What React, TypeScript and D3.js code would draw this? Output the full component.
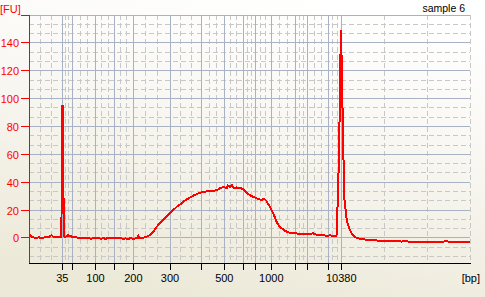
import React from "react";
import * as d3 from "d3";

// Ladder (bp) and their migration times (s)
const ladderBp = [35, 50, 100, 150, 200, 300, 400, 500, 600, 700, 1000, 2000, 3000, 7000, 10380];
const ladderTime = [26.8, 28.84, 33.57, 37.41, 41.29, 48.78, 55.24, 59.86, 63.73, 66.18, 69.45, 74.39, 76.8, 81.16, 83.73];
const labeledBp = [35, 100, 200, 300, 500, 1000, 10380];

const yMajor = [0, 20, 40, 60, 80, 100, 120, 140, 160];
const yLabeled = [0, 20, 40, 60, 80, 100, 120, 140];

const timeDomain = [20, 110];
const fuDomain = [-18, 160];

const sampleName = "sample 6";

// Electropherogram trace: [time (s), fluorescence (FU)]
const trace: [number, number][] = [
  [20.0, 0.9], [20.3, 1.6], [20.6, 0.5], [21.0, 0.3], [21.5, 0.1], [22.0, 0.4], [22.5, 0.0],
  [23.0, 0.3], [23.5, 0.5], [24.0, 0.6], [24.3, 1.5], [24.65, 1.9], [25.0, 0.6], [25.5, 0.3],
  [26.0, 0.4], [26.4, 0.5],
  [26.62, 0.6], [26.72, 95], [26.84, 95], [26.9, 28], [27.05, 28], [27.12, 1.5],
  [27.3, 0.6], [27.6, 1.2], [28.0, 1.9], [28.3, 1.4], [28.7, 1.0], [29.0, 0.6], [29.4, 1.0],
  [29.8, 0.2], [30.2, 0.0], [30.7, -0.3], [31.2, -0.2], [31.7, -0.4], [32.2, -0.3], [32.7, -0.5],
  [33.2, -0.3], [33.7, -0.4], [34.2, -0.2], [34.7, -0.5], [35.2, -0.3], [35.7, -0.6], [36.2, 0.2],
  [36.7, -0.4], [37.2, -0.2], [37.7, 0.3], [38.2, -0.4], [38.7, -0.3], [39.2, -0.5], [39.7, -0.4],
  [40.2, -0.6], [40.7, -0.3], [41.2, -0.5], [41.7, -0.4], [42.1, -0.2], [42.3, 1.5], [42.5, -0.2],
  [42.9, -0.3], [43.27, 0.0],
  [44.0, 0.8], [44.69, 2.0], [45.39, 4.5], [46.06, 8.0], [46.73, 10.5], [47.41, 12.8], [48.1, 15.5],
  [48.78, 17.6], [49.45, 20.0], [50.14, 22.3], [50.82, 24.0], [51.49, 25.9], [52.18, 27.6],
  [52.86, 29.0], [53.53, 30.3], [54.22, 31.4], [54.9, 32.4], [55.57, 33.0], [56.27, 33.4],
  [56.94, 33.6], [57.61, 33.8], [58.31, 34.3], [58.98, 35.6], [59.65, 36.7], [60.35, 35.5],
  [60.61, 37.5], [61.02, 36.7], [61.43, 37.8], [61.84, 35.8], [62.39, 36.2], [63.06, 35.8],
  [63.73, 35.0], [64.08, 33.5], [64.49, 32.0], [65.1, 30.7], [65.78, 29.5], [66.49, 28.3],
  [67.14, 27.6], [67.55, 27.2], [67.96, 28.3], [68.51, 26.4], [68.78, 24.5], [69.18, 22.3],
  [69.49, 20.0], [69.86, 17.6], [70.2, 14.5], [70.55, 11.5], [70.88, 9.5], [71.22, 8.0],
  [71.9, 6.0], [72.59, 4.4], [73.27, 3.6], [73.94, 3.4], [74.63, 3.2], [75.31, 2.9], [75.98, 3.1],
  [76.67, 2.7], [77.35, 2.7], [77.96, 3.3], [78.71, 2.2], [79.39, 1.8], [80.0, 2.0], [80.76, 1.5],
  [81.43, 1.9], [82.1, 1.2], [82.65, 1.6],
  [82.85, 2.5], [82.95, 21], [83.3, 62], [83.5, 122], [83.7, 149], [83.85, 114], [84.1, 75],
  [84.3, 30], [84.84, 12.8], [85.37, 6.8], [85.87, 3.2], [86.4, 1.0],
  [86.9, 0.0], [87.4, -0.4], [87.9, -0.9], [88.4, -1.0], [88.9, -1.3], [89.4, -1.5], [90.0, -1.7],
  [90.6, -1.6], [91.2, -1.9], [91.8, -2.1], [92.5, -2.3], [93.3, -2.2], [94.0, -2.5], [95.0, -2.4],
  [96.0, -2.6], [97.0, -2.5], [98.0, -2.7], [99.0, -2.6], [100.0, -2.8], [101.0, -2.7],
  [102.0, -2.9], [103.0, -2.8], [104.0, -3.0], [105.2, -2.3], [106.0, -3.0], [107.0, -3.1],
  [108.0, -2.9], [109.0, -3.2], [110.0, -3.1],
];

const W = 485;
const H = 297;
const L = 29;
const R = 470;
const T = 15;
const B = 263;

const FONT = "'Liberation Sans', Arial, sans-serif";

export default function App() {
  const x = d3.scaleLinear().domain(timeDomain).range([L, R]);
  const y = d3.scaleLinear().domain(fuDomain).range([B, T]);
  const px = (v: number) => Math.floor(x(v)) + 0.5;
  const py = (v: number) => Math.floor(y(v)) + 0.5;

  // vertical grid: solid at ladder times, dashed at thirds between boundaries
  const bounds = [timeDomain[0], ...ladderTime, timeDomain[1]];
  const vDashed: number[] = [];
  for (let i = 0; i < bounds.length - 1; i++) {
    const a = bounds[i], b = bounds[i + 1];
    vDashed.push(a + (b - a) / 3, a + (2 * (b - a)) / 3);
  }
  vDashed.push(timeDomain[1]);

  const hDashed: number[] = [];
  const majorAll = [-20, ...yMajor];
  for (let i = 0; i < majorAll.length - 1; i++) {
    const a = majorAll[i], b = majorAll[i + 1];
    [a + (b - a) / 3, a + (2 * (b - a)) / 3].forEach((v) => {
      if (v > fuDomain[0]) hDashed.push(v);
    });
  }

  const line = d3
    .line<[number, number]>()
    .x((d) => x(d[0]))
    .y((d) => y(d[1]))
    .curve(d3.curveLinear);

  const bpTime = (bp: number) => ladderTime[ladderBp.indexOf(bp)];

  return (
    <svg
      width={W}
      height={H}
      style={{ position: "fixed", left: 0, top: 0, display: "block" }}
      fontFamily={FONT}
    >
      <defs>
        <linearGradient id="bg" x1="0.65" y1="0" x2="0.35" y2="1">
          <stop offset="0" stopColor="#FFFFFF" />
          <stop offset="0.35" stopColor="#F9F8F4" />
          <stop offset="1" stopColor="#ECE9D8" />
        </linearGradient>
      </defs>
      <rect x={0} y={0} width={W} height={H} fill="url(#bg)" />

      {/* dashed grid */}
      <g stroke="#C8C8C8" strokeWidth={1} strokeDasharray="5 3" shapeRendering="crispEdges">
        {hDashed.map((v, i) => (
          <line key={"hd" + i} x1={L} x2={R} y1={py(v)} y2={py(v)} />
        ))}
        {vDashed.map((v, i) => (
          <line key={"vd" + i} x1={px(v)} x2={px(v)} y1={T} y2={B} />
        ))}
      </g>

      {/* solid grid */}
      <g stroke="#A9B2C4" strokeWidth={1} shapeRendering="crispEdges">
        {yMajor.map((v) => (
          <line key={"hs" + v} x1={L} x2={R} y1={py(v)} y2={py(v)} />
        ))}
        {ladderTime.map((t, i) => (
          <line key={"vs" + i} x1={px(t)} x2={px(t)} y1={T} y2={B} />
        ))}
      </g>

      {/* trace */}
      <path
        d={line(trace) || ""}
        fill="none"
        stroke="#FF0000"
        strokeWidth={2}
        strokeLinejoin="miter"
        shapeRendering="crispEdges"
      />

      {/* y axis */}
      <g shapeRendering="crispEdges">
        <line x1={L + 0.5} x2={L + 0.5} y1={T} y2={B + 1} stroke="#FF0000" />
        {yMajor.map((v) => (
          <line key={"yt" + v} x1={21} x2={L} y1={py(v)} y2={py(v)} stroke="#FF0000" />
        ))}
      </g>
      {yLabeled.map((v) => (
        <text
          key={"yl" + v}
          x={19}
          y={py(v) + 4}
          textAnchor="end"
          fontSize={11}
          fill="#FF0000"
        >
          {v}
        </text>
      ))}
      <text x={0} y={12.5} fontSize={11} fill="#FF0000">
        [FU]
      </text>

      {/* x axis */}
      <g shapeRendering="crispEdges">
        <line x1={L} x2={R + 1} y1={B + 0.5} y2={B + 0.5} stroke="#000000" />
        {ladderTime.map((t, i) => (
          <line key={"xt" + i} x1={px(t)} x2={px(t)} y1={B} y2={B + 7} stroke="#000000" />
        ))}
      </g>
      {labeledBp.map((bp) => (
        <text
          key={"xl" + bp}
          x={x(bpTime(bp))}
          y={282}
          textAnchor="middle"
          fontSize={11}
          fill="#000000"
        >
          {bp}
        </text>
      ))}
      <text x={480} y={282} textAnchor="end" fontSize={11} fill="#000000">
        [bp]
      </text>
      <text x={465} y={12} textAnchor="end" fontSize={10.5} fill="#000000">
        {sampleName}
      </text>
    </svg>
  );
}
